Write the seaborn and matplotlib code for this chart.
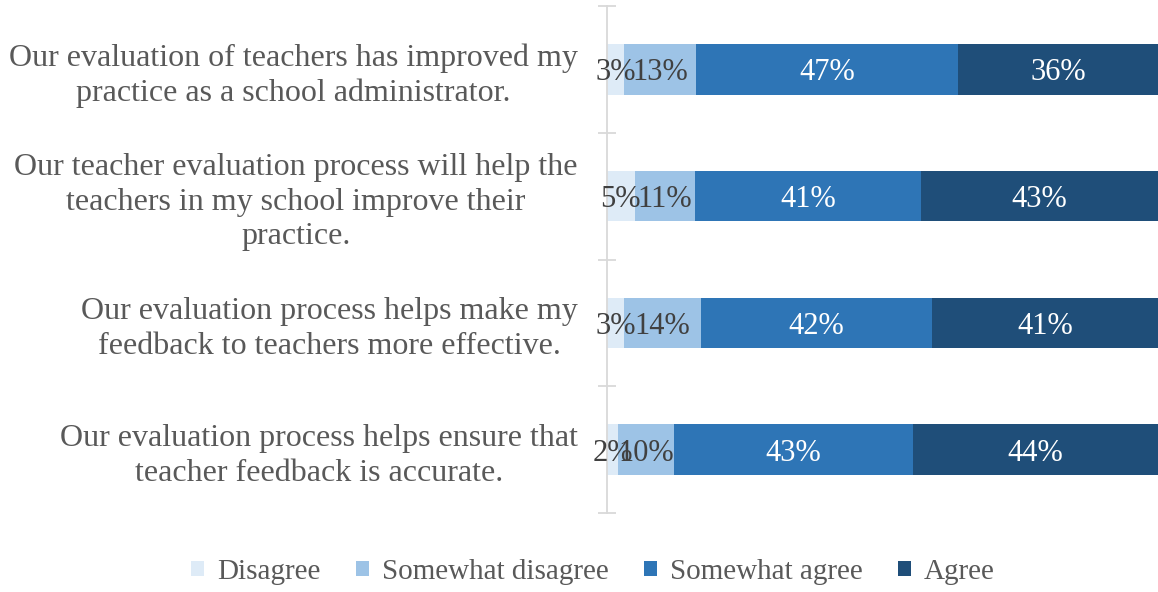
import matplotlib
matplotlib.use("Agg")
import matplotlib.pyplot as plt
import seaborn as sns
import numpy as np
import pandas as pd
from matplotlib.patches import Patch

categories = [
    "Our evaluation of teachers has improved my\npractice as a school administrator.",
    "Our teacher evaluation process will help the\nteachers in my school improve their\npractice.",
    "Our evaluation process helps make my\nfeedback to teachers more effective.",
    "Our evaluation process helps ensure that\nteacher feedback is accurate.",
]
series = ["Disagree", "Somewhat disagree", "Somewhat agree", "Agree"]
disagree = [3, 5, 3, 2]
somewhat_disagree = [13, 11, 14, 10]
somewhat_agree = [47, 41, 42, 43]
agree = [36, 43, 41, 44]
colors = ["#deebf7", "#9dc3e6", "#2e75b6", "#1f4e79"]
text_colors = ["#404040", "#404040", "white", "white"]

sns.set_theme(style="white")
plt.rcParams["font.family"] = ["Liberation Serif", "DejaVu Serif"]

vals = np.array([disagree, somewhat_disagree, somewhat_agree, agree], dtype=float)
totals = vals.sum(axis=0)
shares = vals / totals * 100  # 100% stacked
cum = np.cumsum(shares, axis=0)

fig = plt.figure(figsize=(11.58, 5.92), dpi=100)
ax = fig.add_axes([607 / 1158, 1 - 513 / 592, 551 / 1158, 507 / 592])

# draw cumulative bars from the longest to the shortest
for i in range(len(series) - 1, -1, -1):
    df = pd.DataFrame({"cat": categories, "val": cum[i]})
    sns.barplot(data=df, y="cat", x="val", orient="h", color=colors[i],
                width=0.4, ax=ax, saturation=1, linewidth=0, order=categories)

# labels
for i in range(len(series)):
    for j in range(len(categories)):
        start = cum[i][j] - shares[i][j]
        ax.text(start + shares[i][j] / 2, j, f"{int(vals[i][j])}%",
                ha="center", va="center_baseline", fontsize=22, color=text_colors[i])

ax.set_xlim(0, 100)
ax.set_ylim(3.5, -0.5)
ax.set_xlabel("")
ax.set_ylabel("")
ax.xaxis.set_visible(False)
for s in ["top", "right", "bottom"]:
    ax.spines[s].set_visible(False)
ax.spines["left"].set_color("#d9d9d9")
ax.spines["left"].set_linewidth(1.3)

ax.set_yticks(range(len(categories)))
ax.set_yticklabels(categories, fontsize=23, color="#595959")
for lbl in ax.get_yticklabels():
    lbl.set_multialignment("center")
    lbl.set_linespacing(1.25)
ax.tick_params(axis="y", which="major", length=0, pad=21)
ax.set_yticks(np.arange(-0.5, len(categories), 1.0), minor=True)
ax.tick_params(axis="y", which="minor", length=13, width=1.3, color="#d9d9d9",
               direction="inout", left=True)

handles = [Patch(facecolor=c, edgecolor="none") for c in colors]
fig.legend(handles, series, loc="center", bbox_to_anchor=(593 / 1158, 1 - 572 / 592),
           ncol=4, frameon=False, fontsize=21, handlelength=0.45, handleheight=0.45,
           handletextpad=0.45, columnspacing=1.2, labelcolor="#595959",
           borderpad=0, borderaxespad=0)

fig.savefig("out.png", dpi=100)
